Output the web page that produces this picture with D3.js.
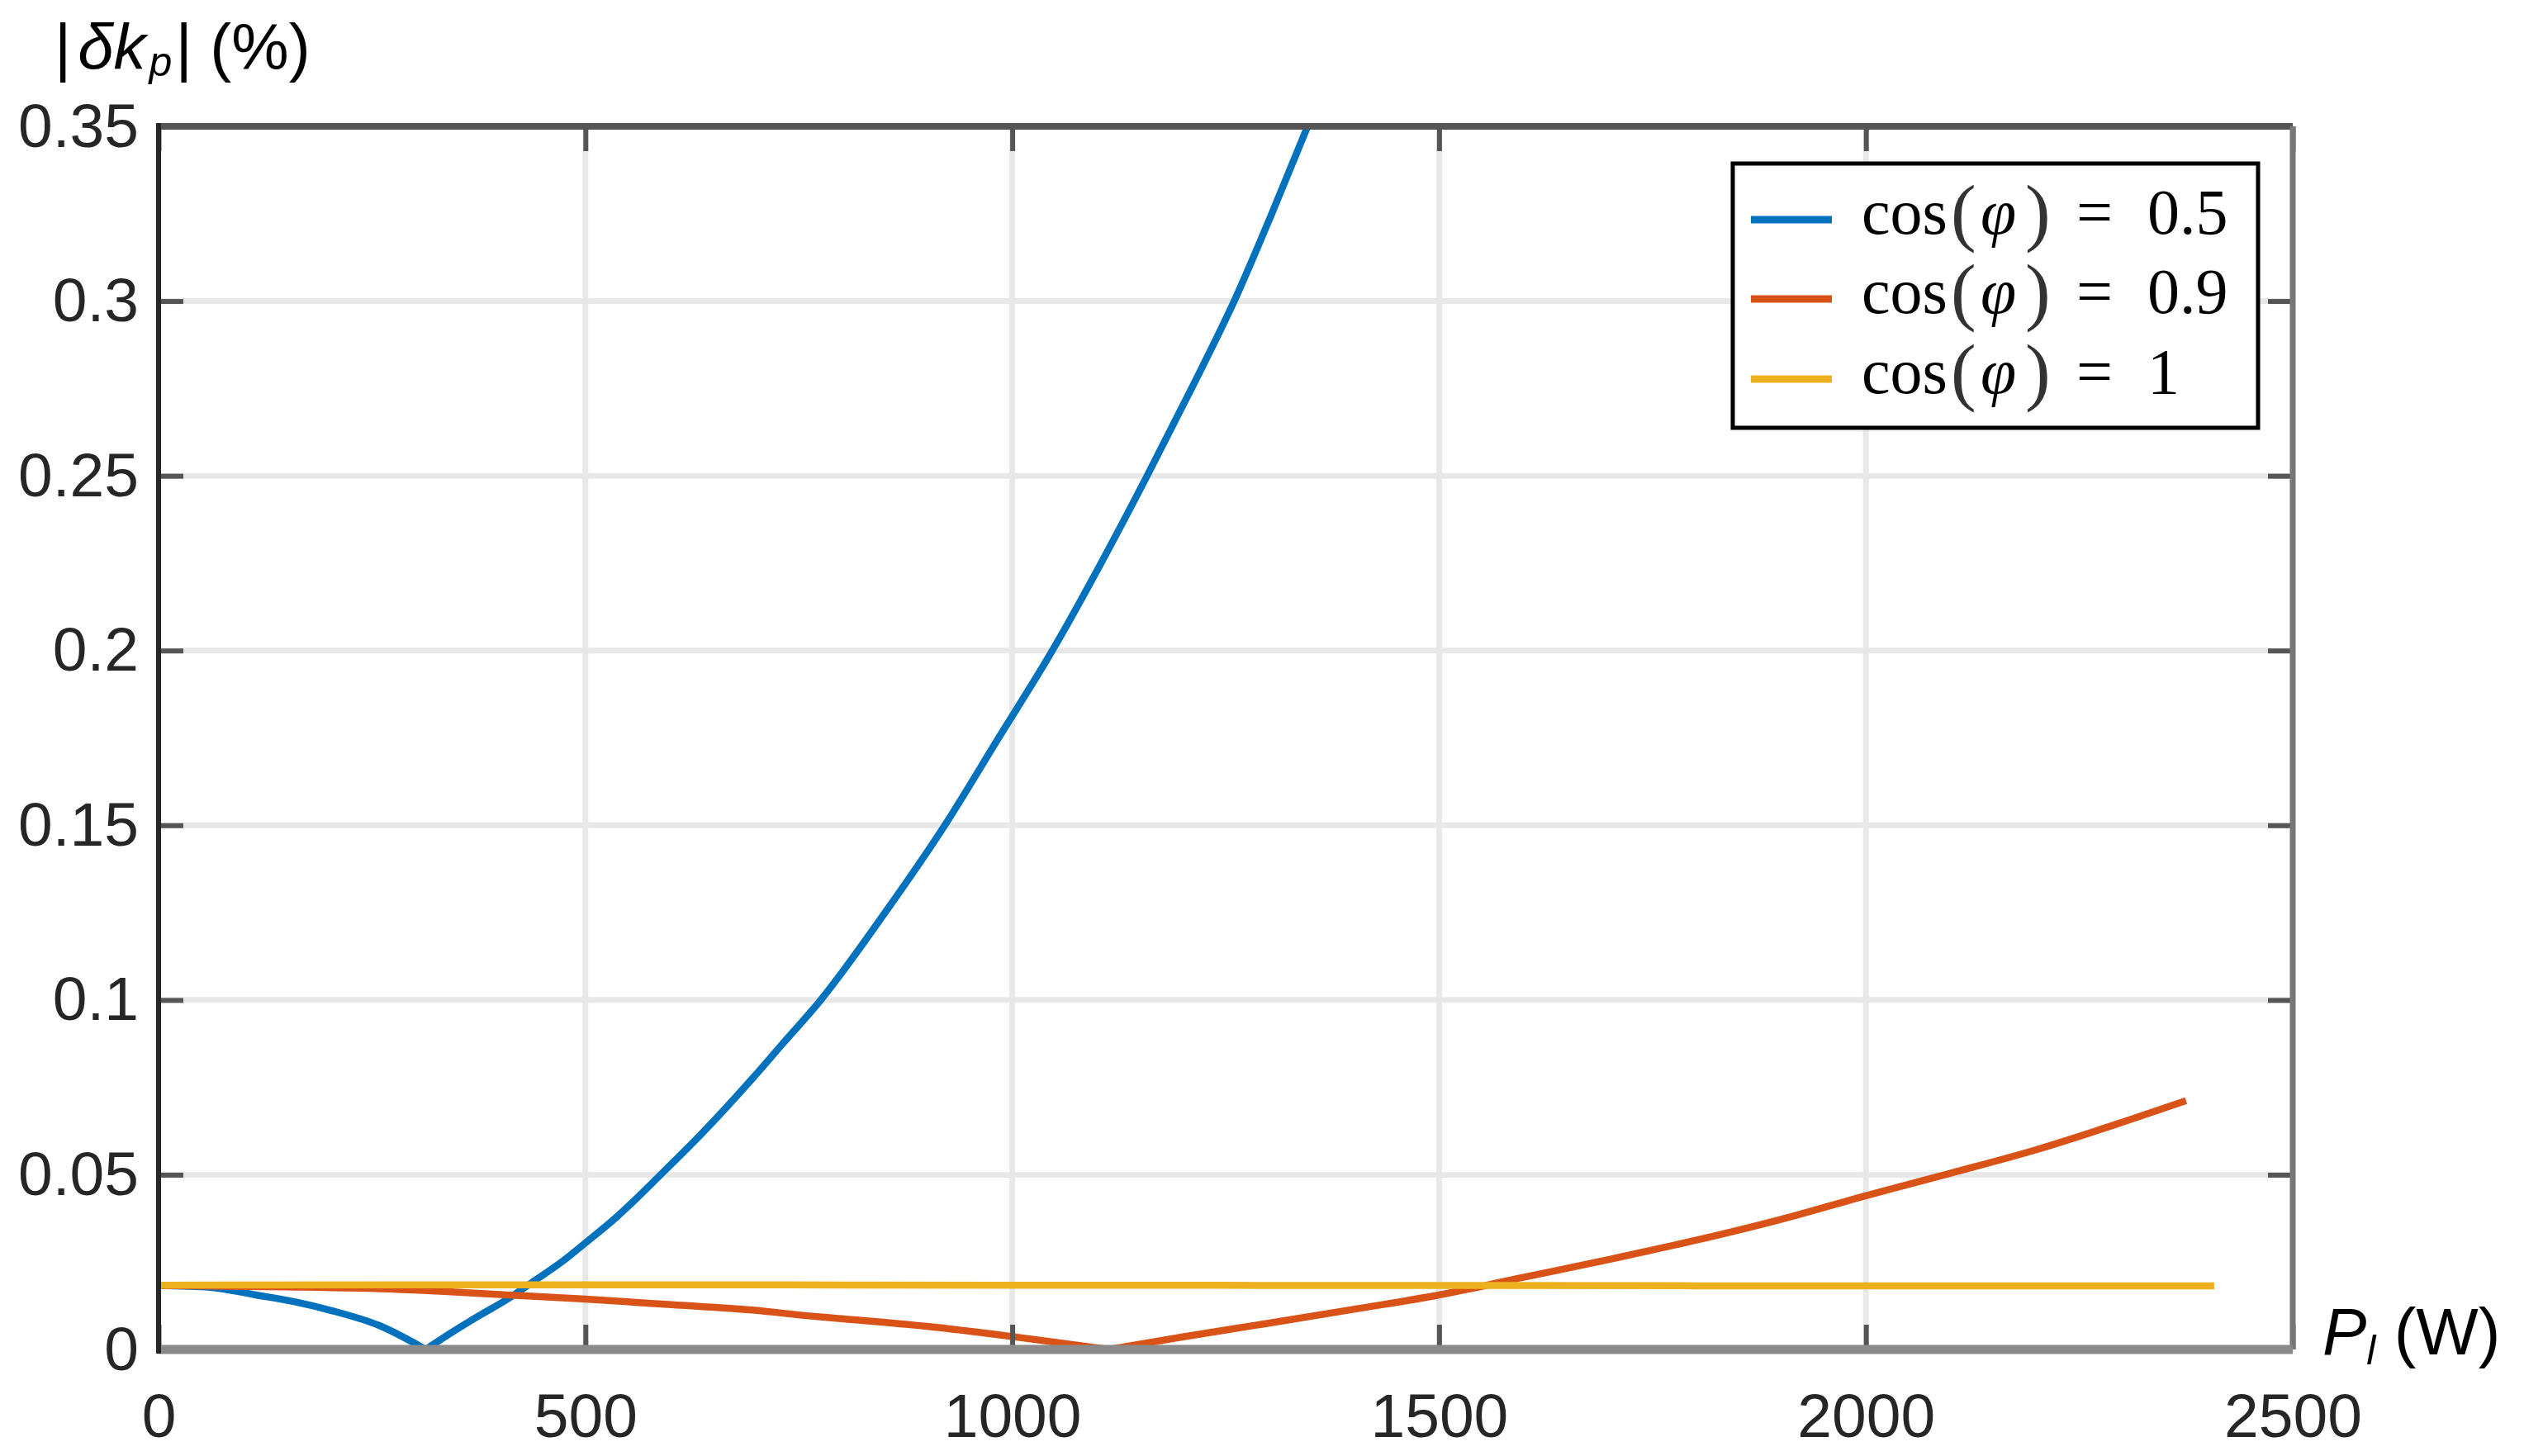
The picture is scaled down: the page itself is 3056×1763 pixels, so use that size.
<!DOCTYPE html>
<html>
<head>
<meta charset="utf-8">
<script src="https://cdn.jsdelivr.net/npm/d3@7"></script>
<style>
body { margin: 0; background: #fff; }
</style>
</head>
<body>
<script>

// tick values and labels
var xTicks = [0, 500, 1000, 1500, 2000, 2500];
var yTicks = [0, 0.05, 0.1, 0.15, 0.2, 0.25, 0.3, 0.35];
var yTickLabels = ["0", "0.05", "0.1", "0.15", "0.2", "0.25", "0.3", "0.35"];

// legend names
var seriesNames = ["0.5", "0.9", "1"];
var seriesColors = ["#0072BD", "#D95319", "#EDB120"];

// cos(phi) = 0.5 (the V bottom sits at 313 W)
var bluePl = [0, 60, 114, 160, 203, 258, 313, 343, 375, 408, 440, 472, 500, 537, 588, 634, 698, 730, 775, 851, 921, 984, 1047, 1104, 1158, 1210, 1260, 1304, 1346];
var blueDk = [0.0183, 0.0178, 0.0156, 0.0136, 0.0111, 0.0069, 0, 0.0048, 0.0096, 0.0143, 0.0196, 0.0250, 0.0305, 0.0380, 0.050, 0.0612, 0.0782, 0.0872, 0.0998, 0.125, 0.150, 0.175, 0.200, 0.225, 0.250, 0.275, 0.300, 0.325, 0.350];

// cos(phi) = 0.9 (V bottom at 1113 W)
var orangePl = [0, 150, 280, 408, 500, 601, 698, 762, 800, 900, 1000, 1113, 1200, 1300, 1400, 1500, 1600, 1700, 1800, 1900, 2000, 2100, 2200, 2300, 2375];
var orangeDk = [0.0183, 0.0179, 0.0172, 0.0156, 0.0144, 0.0128, 0.0112, 0.0096, 0.0088, 0.0066, 0.0037, 0, 0.0036, 0.0075, 0.0115, 0.0156, 0.0207, 0.0258, 0.0312, 0.0372, 0.0440, 0.0505, 0.0572, 0.0650, 0.0712];

// cos(phi) = 1
var yellowPl = [0, 500, 1000, 1500, 2000, 2408];
var yellowDk = [0.0184, 0.0185, 0.0184, 0.0183, 0.0182, 0.0182];

var width = 3056, height = 1763;
var m = {top: 153, right: 280, bottom: 129, left: 192};

var svg = d3.select("body").append("svg")
    .attr("width", width)
    .attr("height", height);

var x = d3.scaleLinear().domain([0, 2500]).range([m.left, width - m.right]);
var y = d3.scaleLinear().domain([0, 0.35]).range([height - m.bottom, m.top]);

// grid
var grid = svg.append("g").attr("stroke", "#e8e8e8").attr("stroke-width", 7);
grid.selectAll(".gx").data(xTicks.slice(1, -1)).enter().append("line")
    .attr("x1", function(d) { return x(d); }).attr("x2", function(d) { return x(d); })
    .attr("y1", y(0)).attr("y2", y(0.35));
grid.selectAll(".gy").data(yTicks.slice(1, -1)).enter().append("line")
    .attr("x1", x(0)).attr("x2", x(2500))
    .attr("y1", function(d) { return y(d); }).attr("y2", function(d) { return y(d); });

// curves: each one split at its minimum so the V stays sharp
var line = d3.line()
    .x(function(d) { return x(d[0]); })
    .y(function(d) { return y(d[1]); })
    .curve(d3.curveMonotoneX);

function branches(pl, dk, color) {
  var pts = d3.zip(pl, dk);
  var k = d3.minIndex(dk);
  var out = [];
  if (dk[k] === 0 && k > 0 && k < pts.length - 1) {
    out.push({pts: pts.slice(0, k + 1), color: color});
    out.push({pts: pts.slice(k), color: color});
  } else {
    out.push({pts: pts, color: color});
  }
  return out;
}

var paths = [].concat(
  branches(bluePl, blueDk, seriesColors[0]),
  branches(orangePl, orangeDk, seriesColors[1]),
  branches(yellowPl, yellowDk, seriesColors[2])
);

svg.append("clipPath").attr("id", "clip").append("rect")
    .attr("x", x(0)).attr("y", y(0.35) - 4)
    .attr("width", x(2500) - x(0)).attr("height", y(0) - y(0.35) + 8);

svg.append("g").attr("clip-path", "url(#clip)")
  .selectAll("path").data(paths).enter().append("path")
    .attr("d", function(d) { return line(d.pts); })
    .attr("fill", "none")
    .attr("stroke", function(d) { return d.color; })
    .attr("stroke-width", 8.5)
    .attr("stroke-linejoin", "round");

// axes (ticks inside, like matlab)
var font = "'Liberation Sans', Arial, sans-serif";

var xAxis = svg.append("g")
    .attr("transform", "translate(0," + y(0) + ")")
    .call(d3.axisBottom(x).tickValues(xTicks).tickSize(-30).tickPadding(53).tickFormat(d3.format("d")));
var yAxis = svg.append("g")
    .attr("transform", "translate(" + x(0) + ",0)")
    .call(d3.axisLeft(y).tickValues(yTicks).tickSize(-30).tickPadding(24)
      .tickFormat(function(d, i) { return yTickLabels[i]; }));
var xTop = svg.append("g")
    .attr("transform", "translate(0," + y(0.35) + ")")
    .call(d3.axisTop(x).tickValues(xTicks).tickSize(-30).tickFormat(""));
var yRight = svg.append("g")
    .attr("transform", "translate(" + x(2500) + ",0)")
    .call(d3.axisRight(y).tickValues(yTicks).tickSize(-30).tickFormat(""));

[xAxis, yAxis, xTop, yRight].forEach(function(g) {
  g.select(".domain").remove();
  g.selectAll(".tick line").attr("stroke", "#555").attr("stroke-width", 6);
  g.selectAll("text")
    .attr("font-family", font)
    .attr("font-size", 75)
    .attr("fill", "#262626");
});

// box
svg.append("line").attr("x1", x(0)).attr("x2", x(2500)).attr("y1", y(0.35)).attr("y2", y(0.35))
    .attr("stroke", "#555").attr("stroke-width", 8);
svg.append("line").attr("x1", x(2500)).attr("x2", x(2500)).attr("y1", y(0.35)).attr("y2", y(0))
    .attr("stroke", "#777").attr("stroke-width", 7);
svg.append("line").attr("x1", x(0)).attr("x2", x(2500)).attr("y1", y(0)).attr("y2", y(0))
    .attr("stroke", "#8a8a8a").attr("stroke-width", 11);
svg.append("line").attr("x1", x(0)).attr("x2", x(0)).attr("y1", y(0.35) - 4).attr("y2", y(0) + 5)
    .attr("stroke", "#262626").attr("stroke-width", 6);

// axis labels
var yl = svg.append("text")
    .attr("x", 66).attr("y", 84)
    .attr("font-family", font).attr("font-size", 78).attr("fill", "#000");
yl.append("tspan").text("|");
yl.append("tspan").attr("font-style", "italic").attr("dx", 8).text("δk");
yl.append("tspan").attr("font-style", "italic").attr("font-size", 50).attr("dx", 4).attr("dy", 8).text("p");
yl.append("tspan").attr("dy", -8).attr("dx", 4).text("| (%)");

var xl = svg.append("text")
    .attr("x", 2812).attr("y", 1640)
    .attr("font-family", font).attr("font-size", 80).attr("fill", "#000");
xl.append("tspan").attr("font-style", "italic").text("P");
xl.append("tspan").attr("font-style", "italic").attr("font-size", 50).attr("dy", 12).text("l");
xl.append("tspan").attr("dy", -12).text(" (W)");

// legend
var lg = svg.append("g");
lg.append("rect")
    .attr("x", 2098).attr("y", 198).attr("width", 636).attr("height", 320)
    .attr("fill", "#fff").attr("stroke", "#000").attr("stroke-width", 5);

var rowY = [266, 362, 459];
var rows = lg.selectAll(".row").data(seriesNames).enter().append("g")
    .attr("transform", function(d, i) { return "translate(0," + rowY[i] + ")"; });
rows.append("line")
    .attr("x1", 2120).attr("x2", 2218)
    .attr("stroke", function(d, i) { return seriesColors[i]; })
    .attr("stroke-width", 9);

var serif = "'Liberation Serif', 'DejaVu Serif', serif";
function legendPiece(txt, px, opts) {
  var t = rows.append("text")
      .attr("x", px).attr("y", 17)
      .attr("font-family", serif)
      .attr("font-size", opts.size || 78)
      .attr("fill", opts.fill || "#000")
      .text(txt);
  if (opts.italic) t.attr("font-style", "italic");
  if (opts.dy) t.attr("dy", opts.dy);
  return t;
}
legendPiece("cos", 2254, {});
legendPiece("(", 2362, {size: 92, dy: 4, fill: "#333"});
legendPiece("φ", 2398, {italic: true});
legendPiece(")", 2452, {size: 92, dy: 4, fill: "#333"});
legendPiece("=", 2514, {});
rows.append("text")
    .attr("x", 2600).attr("y", 17)
    .attr("font-family", serif).attr("font-size", 78).attr("fill", "#000")
    .text(function(d) { return d; });

</script>
</body>
</html>
